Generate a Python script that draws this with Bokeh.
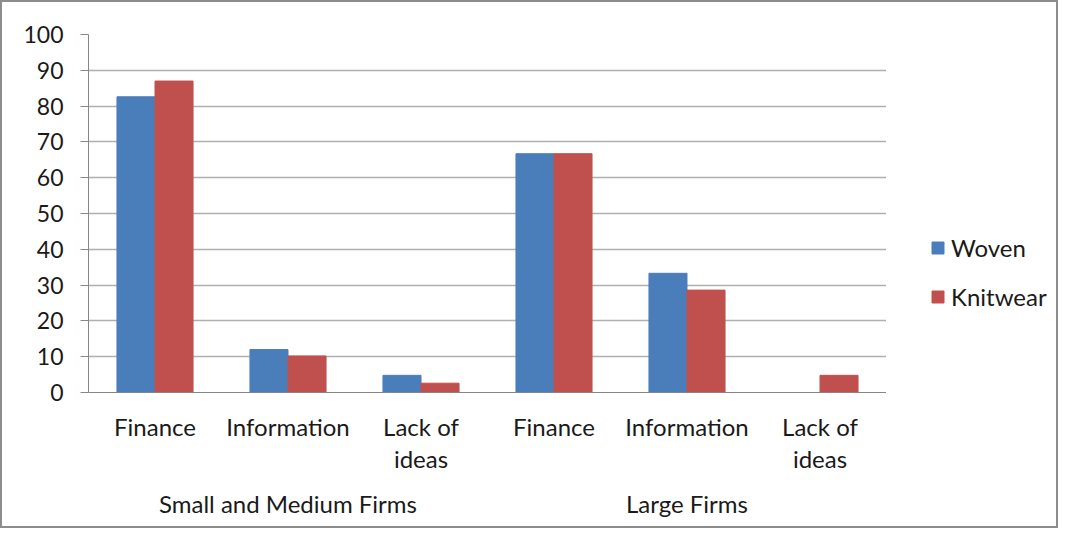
from bokeh.plotting import figure
from bokeh.layouts import row
from bokeh.models import FactorRange, ColumnDataSource, Legend, LegendItem, FixedTicker
from bokeh.transform import dodge
from bokeh.embed import file_html
from bokeh.resources import INLINE

groups = ["Small and Medium Firms", "Large Firms"]
categories = ["Finance", "Information", "Lack of\nideas"]
woven = [82.6, 12.0, 4.8, 66.7, 33.3, 0.0]
knitwear = [87.0, 10.2, 2.6, 66.7, 28.6, 4.8]
series = ["Woven", "Knitwear"]
colors = ["#4A7EBB", "#C0504D"]
y_ticks = list(range(0, 101, 10))

factors = [(g, c) for g in groups for c in categories]
src = ColumnDataSource(dict(x=factors, woven=woven, knitwear=knitwear))

FONT = "Lato"
p = figure(width=884, height=524, output_backend="svg", toolbar_location=None,
           x_range=FactorRange(*factors, group_padding=0, factor_padding=0, range_padding=0),
           y_range=(0, 100))
p.min_border_left = 86
p.min_border_top = 32
p.min_border_right = 0
p.min_border_bottom = 134
p.outline_line_color = None
p.background_fill_color = "white"
p.border_fill_color = "white"

r1 = p.vbar(x=dodge("x", -0.143, range=p.x_range), top="woven", width=0.286, source=src,
            fill_color=colors[0], line_color=colors[0])
r2 = p.vbar(x=dodge("x", 0.143, range=p.x_range), top="knitwear", width=0.286, source=src,
            fill_color=colors[1], line_color=colors[1])

# y axis
p.yaxis.ticker = FixedTicker(ticks=y_ticks)
p.yaxis.axis_line_color = "#868686"
p.yaxis.major_tick_line_color = "#868686"
p.yaxis.major_tick_out = 8
p.yaxis.major_tick_in = 0
p.yaxis.minor_tick_line_color = None
p.yaxis.major_label_text_font = FONT
p.yaxis.major_label_text_font_size = "23px"
p.yaxis.major_label_text_color = "#1a1a1a"
p.yaxis.major_label_standoff = 17

p.ygrid.grid_line_color = "#b0b0b0"
p.ygrid.grid_line_width = 1.5
p.xgrid.grid_line_color = None

# x axis
xa = p.xaxis[0]
xa.axis_line_color = "#868686"
xa.major_tick_line_color = None
xa.minor_tick_line_color = None
xa.major_label_text_font = FONT
xa.major_label_text_font_size = "24px"
xa.major_label_text_color = "#1a1a1a"
xa.major_label_text_line_height = 1.13
xa.major_label_standoff = 13
xa.group_text_font = FONT
xa.group_text_font_size = "24px"
xa.group_text_color = "#1a1a1a"
xa.group_text_font_style = "normal"
xa.separator_line_color = None

# legend panel: a second figure sharing the ranges, whose (hidden) renderers
# carry the same data and colours, so the legend glyphs are the series' own
lf = figure(width=170, height=524, output_backend="svg", toolbar_location=None,
            x_axis_location=None, y_axis_location=None,
            x_range=p.x_range, y_range=p.y_range)
lf.min_border = 0
lf.min_border_top = 32
lf.min_border_bottom = 134
lf.outline_line_color = None
lf.grid.grid_line_color = None
lf.border_fill_color = "white"
lf.background_fill_color = "white"
l1 = lf.vbar(x=dodge("x", -0.143, range=p.x_range), top="woven", width=0.286, source=src,
             fill_color=colors[0], line_color=colors[0], visible=False)
l2 = lf.vbar(x=dodge("x", 0.143, range=p.x_range), top="knitwear", width=0.286, source=src,
             fill_color=colors[1], line_color=colors[1], visible=False)

legend = Legend(items=[LegendItem(label=series[0], renderers=[l1]),
                       LegendItem(label=series[1], renderers=[l2])],
                location=(44, 81), orientation="vertical",
                glyph_width=15, glyph_height=15, label_height=20, spacing=20,
                padding=0, margin=0, border_line_color=None, background_fill_alpha=0,
                inactive_fill_alpha=0,
                label_text_font=FONT, label_text_font_size="24px", label_text_color="#1a1a1a",
                label_standoff=6)
lf.add_layout(legend)

layout = row(p, lf, styles={"border": "2px solid #8c8c8c"})

open("out.html", "w").write(file_html(layout, INLINE))
